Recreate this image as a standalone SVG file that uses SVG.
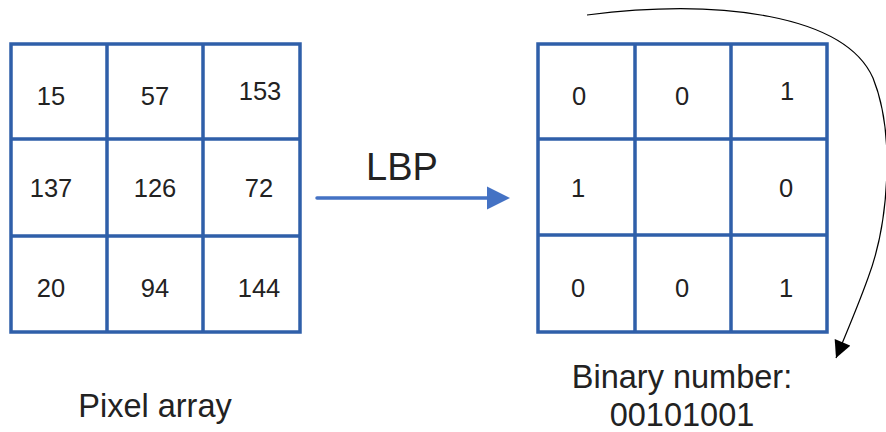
<svg xmlns="http://www.w3.org/2000/svg" width="886" height="432" viewBox="0 0 886 432">
<defs>
<style>
.grid{fill:none;stroke:#2f5fa9;stroke-width:3.5}
.num{font-family:"Liberation Sans",Arial,sans-serif;font-size:25.5px;fill:#222;text-anchor:middle}
.lbl{font-family:"Liberation Sans",Arial,sans-serif;font-size:32.5px;fill:#222;text-anchor:middle}
.conn{fill:none}
</style>
<marker id="blue" viewBox="0 0 10 10" refX="0" refY="5" markerWidth="23" markerHeight="25" markerUnits="userSpaceOnUse" orient="auto"><path d="M0,0 L10,5 L0,10 Z" fill="#4472c4"/></marker>
<marker id="black" viewBox="0 0 10 10" refX="10" refY="5" markerWidth="19" markerHeight="17" markerUnits="userSpaceOnUse" orient="auto"><path d="M0,0 L10,5 L0,10 Z" fill="#000"/></marker>
</defs>
<g id="pixel-array">
<rect class="grid" x="11" y="44" width="289" height="288"/>
<path class="grid" d="M107,44V332M203,44V332M11,139H300M11,236H300"/>
<text class="num" x="51" y="105">15</text>
<text class="num" x="155" y="105">57</text>
<text class="num" x="260" y="100">153</text>
<text class="num" x="51" y="197">137</text>
<text class="num" x="155" y="197">126</text>
<text class="num" x="259" y="197">72</text>
<text class="num" x="51" y="297">20</text>
<text class="num" x="155" y="297">94</text>
<text class="num" x="259" y="297">144</text>
<text class="lbl" x="155" y="417">Pixel array</text>
</g>
<g id="binary-array">
<rect class="grid" x="538" y="44" width="289" height="288"/>
<path class="grid" d="M635,44V332M731,44V332M538,139H827M538,235H827"/>
<text class="num" x="579" y="105">0</text>
<text class="num" x="682" y="105">0</text>
<text class="num" x="787" y="100">1</text>
<text class="num" x="578" y="197">1</text>
<text class="num" x="786" y="197">0</text>
<text class="num" x="578" y="297">0</text>
<text class="num" x="682" y="297">0</text>
<text class="num" x="786" y="297">1</text>
<text class="lbl" x="682" y="388">Binary number:</text>
<text class="lbl" x="682" y="426">00101001</text>
</g>
<g id="connectors">
<line class="conn" x1="317" y1="198" x2="487" y2="198" stroke="#4472c4" stroke-width="3.5" stroke-linecap="round" marker-end="url(#blue)"/>
<text class="lbl" x="402" y="180" style="font-size:38px">LBP</text>
<path class="conn" d="M587,15 C720,-2 845,15 873,78 C896,135 888,225 868,278 C858,306 846,334 836,358" stroke="#000" stroke-width="1.2" marker-end="url(#black)"/>
</g>
</svg>
